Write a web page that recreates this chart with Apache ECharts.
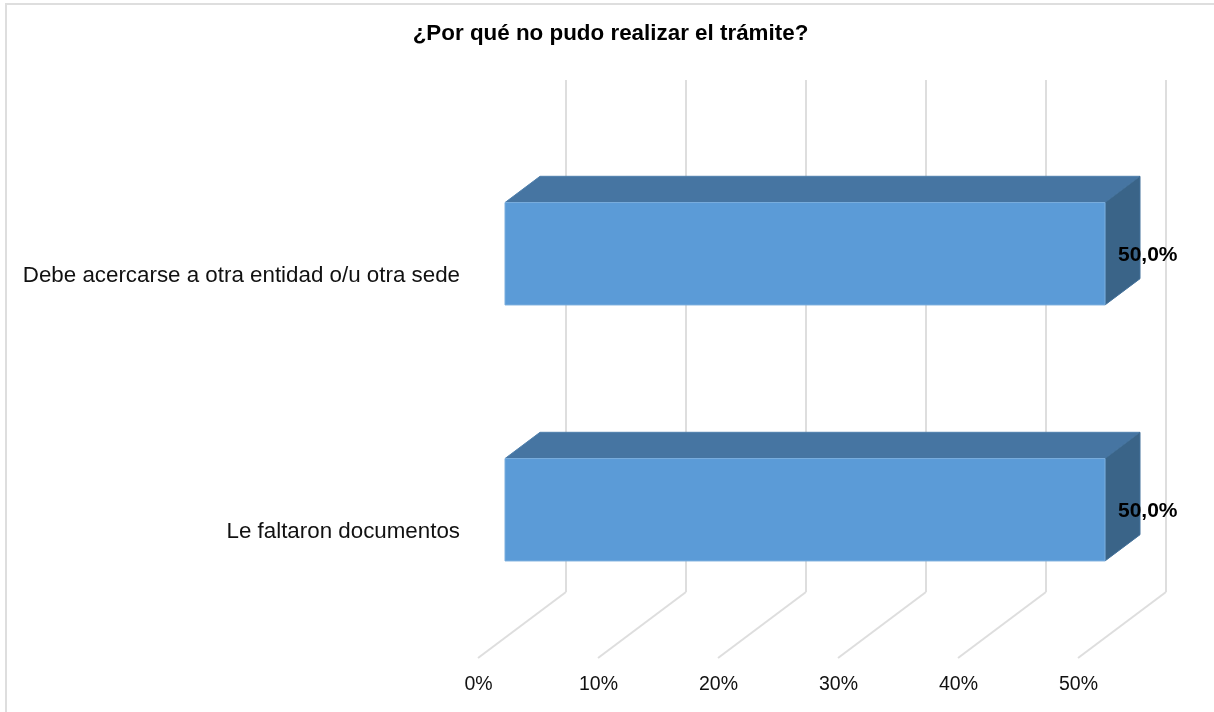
<!DOCTYPE html>
<html>
<head>
<meta charset="utf-8">
<style>html,body{margin:0;padding:0;background:#fff;overflow:hidden}#c{width:1214px;height:712px}</style>
<script src="https://cdn.jsdelivr.net/npm/echarts@6/dist/echarts.min.js"></script>
</head>
<body>
<div id="c"></div>
<script>
const titleText = '¿Por qué no pudo realizar el trámite?';
const categories = ['Le faltaron documentos', 'Debe acercarse a otra entidad o/u otra sede'];
const values = [50.0, 50.0];
const tickValues = [0, 10, 20, 30, 40, 50];

const FONT = '"Liberation Sans", Arial, sans-serif';
const chart = echarts.init(document.getElementById('c'), null, {renderer: 'canvas'});
const ctxDepth = {frontX: -61, frontY: 45.75, backX: -26, backY: 19.5, floorX: -88, floorY: 66};

function renderBar(params, api) {
  const v = api.value(1), cat = api.value(0);
  const start = api.coord([0, cat]);
  const end = api.coord([v, cat]);
  const h = api.size([0, 1])[1] * 0.4;
  const fx0 = start[0] + ctxDepth.frontX, fx1 = end[0] + ctxDepth.frontX;
  const fy0 = start[1] + ctxDepth.frontY - h / 2, fy1 = fy0 + h;
  const dx = ctxDepth.backX - ctxDepth.frontX, dy = ctxDepth.backY - ctxDepth.frontY;
  const edge = {stroke: '#7aaede', lineWidth: 1};
  return {
    type: 'group',
    children: [
      {type: 'polygon', shape: {points: [[fx0, fy0], [fx1, fy0], [fx1 + dx, fy0 + dy], [fx0 + dx, fy0 + dy]]},
        style: {fill: '#4675a2', stroke: '#4f80ad', lineWidth: 1}},
      {type: 'polygon', shape: {points: [[fx1, fy0], [fx1 + dx, fy0 + dy], [fx1 + dx, fy1 + dy], [fx1, fy1]]},
        style: {fill: '#3a6488', stroke: '#42709a', lineWidth: 1}},
      {type: 'rect', shape: {x: fx0, y: fy0, width: fx1 - fx0, height: h},
        style: Object.assign({fill: '#5b9bd7'}, edge)},
      {type: 'text', z2: 10, style: {
        x: fx1 + 13, y: fy0 + h / 2 + 1,
        text: v.toFixed(1).replace('.', ',') + '%',
        fill: '#000', font: 'bold 21px ' + FONT, textAlign: 'left', textVerticalAlign: 'middle'
      }}
    ]
  };
}

function renderFloor(params, api) {
  const p = api.coord([api.value(0), 0]);
  const y0 = params.coordSys.y + params.coordSys.height;
  return {type: 'line', shape: {x1: p[0], y1: y0, x2: p[0] + ctxDepth.floorX, y2: y0 + ctxDepth.floorY},
    style: {stroke: '#dedede', lineWidth: 2}};
}

chart.setOption({
  animation: false,
  backgroundColor: '#fff',
  title: {
    text: titleText, left: 605.5, top: 18, textAlign: 'center',
    textStyle: {fontFamily: FONT, fontSize: 22.4, fontWeight: 'bold', color: '#000'}
  },
  grid: {left: 566, width: 600, top: 80, height: 512, containLabel: false},
  xAxis: {
    type: 'value', min: 0, max: 50, interval: 10,
    axisLine: {show: false}, axisTick: {show: false},
    splitLine: {show: true, lineStyle: {color: '#dedede', width: 2}},
    axisLabel: {
      margin: 83, color: '#111', fontFamily: FONT, fontSize: 19.5, padding: [0, 175, 0, 0],
      formatter: '{value}%', hideOverlap: false, showMinLabel: true, showMaxLabel: true
    }
  },
  yAxis: {
    type: 'category', data: categories,
    axisLine: {show: false}, axisTick: {show: false}, splitLine: {show: false},
    axisLabel: {margin: 106, color: '#111', fontFamily: FONT, fontSize: 22.35, lineHeight: 136, verticalAlign: 'top', align: 'right'}
  },
  graphic: [{type: 'rect', z: -1, silent: true, shape: {x: 6, y: 4, width: 1400, height: 900},
    style: {fill: 'none', stroke: '#dedede', lineWidth: 2}}],
  series: [
    {type: 'custom', name: 'floor', coordinateSystem: 'cartesian2d', silent: true, clip: false,
      renderItem: renderFloor, encode: {x: 0, y: 1}, data: tickValues.map(t => [t, 0]), z: 1},
    {type: 'custom', name: 'bars', coordinateSystem: 'cartesian2d', silent: true, clip: false,
      renderItem: renderBar, encode: {x: 1, y: 0}, data: categories.map((c, i) => [i, values[i]]), z: 2}
  ]
});
</script>
</body>
</html>
